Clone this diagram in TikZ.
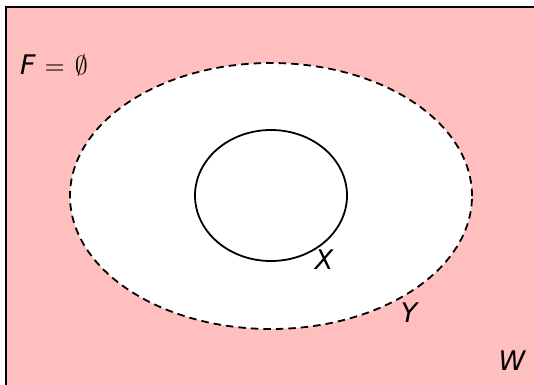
\documentclass[tikz,border=0pt]{standalone}
\usepackage{graphicx}
\usepackage{fontspec}
\usetikzlibrary{shapes.geometric}
\newfontfamily\lblfont{DejaVu Sans}
\newcommand\mylab[1]{\scalebox{2.7}{\lblfont\itshape #1}}
\definecolor{regionpink}{RGB}{255,191,191}
\begin{document}
\begin{tikzpicture}[x=1pt,y=-1pt,
  lbl/.style={inner sep=0pt}]
\useasboundingbox (0,0) rectangle (534,384);
\fill[regionpink] (6,7) rectangle (540,390);
\draw[line width=2.2pt] (6,392) -- (6,7) -- (540,7);
\node[draw, dash pattern=on 7.5pt off 5pt, line width=1.8pt, fill=white, ellipse, minimum width=402pt, minimum height=266pt, inner sep=0pt] (Y) at (271,196) {};
\node[draw, line width=1.8pt, ellipse, minimum width=152pt, minimum height=131pt, inner sep=0pt] (X) at (271,195.5) {};
\node[lbl, anchor=west] (F) at (20,65) {\mylab{F}\hspace{9pt}\scalebox{2.6}{$=$}\hspace{10pt}\scalebox{2.6}{$\emptyset$}};
\node[lbl] (xl) at (324,260) {\mylab{X}};
\node[lbl] (yl) at (409,313) {\mylab{Y}};
\node[lbl] (wl) at (512,361) {\mylab{W}};
\end{tikzpicture}
\end{document}
